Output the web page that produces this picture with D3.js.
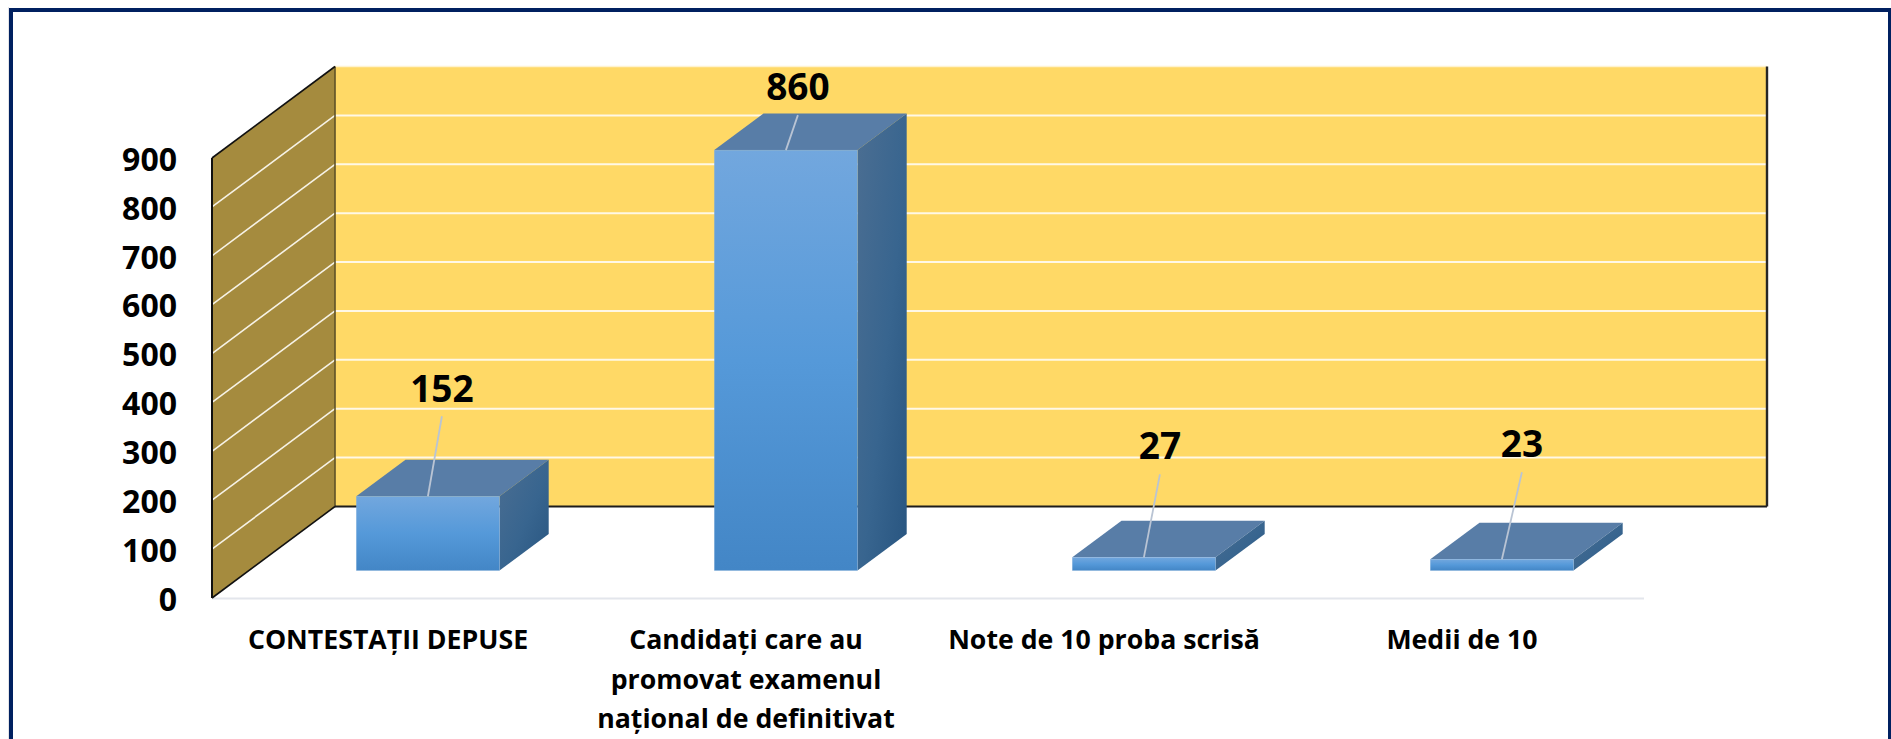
<!DOCTYPE html>
<html><head><meta charset="utf-8">
<script src="https://cdnjs.cloudflare.com/ajax/libs/d3/7.8.5/d3.min.js"></script>
<style>html,body{margin:0;padding:0;background:#fff;overflow:hidden}svg{display:block}text{font-family:"Open Sans",Lato,sans-serif;font-weight:700;fill:#000}</style>
</head><body><svg id="c" width="1891" height="739"></svg>
<script>
const categories = ["CONTESTAȚII DEPUSE", "Candidați care au promovat examenul național de definitivat", "Note de 10 proba scrisă", "Medii de 10"];
const categoryLines = [["CONTESTAȚII DEPUSE"], ["Candidați care au", "promovat examenul", "național de definitivat"], ["Note de 10 proba scrisă"], ["Medii de 10"]];
const values = [152, 860, 27, 23];
const yTicks = [0, 100, 200, 300, 400, 500, 600, 700, 800, 900];
// leader-line ends, in pixels relative to each bar's front-top centre
const leaderOffsets = [[14, -80], [12, -35], [16, -83], [20, -87]];
const labelGap = [14, 15, 15, 15];

const W = 1891, H = 739;
const svg = d3.select("#c");
const x = d3.scaleBand().domain(categories).range([212, 1644]).paddingInner(0.6).paddingOuter(0.3);
const y = d3.scaleLinear().domain([0, 900]).range([598, 158]);
const DX = 123, DY = 91.5;
const P = (px, py, d) => [px + d * DX, py - d * DY];
const poly = pts => pts.map(p => p.join(",")).join(" ");

const defs = svg.append("defs");
const fg = defs.append("linearGradient").attr("id", "front").attr("x1", 0).attr("y1", 0).attr("x2", 0).attr("y2", 1);
fg.append("stop").attr("offset", 0).attr("stop-color", "#72a7de");
fg.append("stop").attr("offset", 0.5).attr("stop-color", "#5599d9");
fg.append("stop").attr("offset", 1).attr("stop-color", "#4386c6");
const sg = defs.append("linearGradient").attr("id", "side").attr("x1", 0).attr("y1", 0).attr("x2", 1).attr("y2", 1);
sg.append("stop").attr("offset", 0).attr("stop-color", "#4b6e92");
sg.append("stop").attr("offset", 0.55).attr("stop-color", "#38658f");
sg.append("stop").attr("offset", 1).attr("stop-color", "#285580");

// frame
svg.append("rect").attr("x", 8).attr("y", 7).attr("width", 1).attr("height", H).attr("fill", "#e4e4e8");
svg.append("rect").attr("x", 11).attr("y", 10).attr("width", 1879).attr("height", H + 20)
  .attr("fill", "#fff").attr("stroke", "#002060").attr("stroke-width", 4);

const [x0, x1] = x.range();
const [y0, yT] = y.range();

// back wall and side wall
svg.append("polygon").attr("points", poly([P(x0, yT, 1), P(x1, yT, 1), P(x1, y0, 1), P(x0, y0, 1)])).attr("fill", "#ffd966");
svg.append("polygon").attr("points", poly([P(x0, yT, 0), P(x0, yT, 1), P(x0, y0, 1), P(x0, y0, 0)])).attr("fill", "#a58b3e");

// gridlines
const grid = svg.append("g").attr("fill", "none");
yTicks.slice(1).forEach(t => {
  const a = P(x0, y(t), 0), b = P(x0, y(t), 1), c = P(x1, y(t), 1);
  if (t < 900) grid.append("line").attr("x1", a[0]).attr("y1", a[1]).attr("x2", b[0]).attr("y2", b[1]).attr("stroke", "#f6f2e6").attr("stroke-width", 1.6);
  grid.append("line").attr("x1", b[0]).attr("y1", b[1]).attr("x2", c[0]).attr("y2", c[1]).attr("stroke", t < 900 ? "#fff8e6" : "#fff3cf").attr("stroke-width", t < 900 ? 2 : 1.4);
});

// floor line
svg.append("line").attr("x1", x0).attr("x2", x1).attr("y1", y0 + 0.5).attr("y2", y0 + 0.5).attr("stroke", "#e3e6ec").attr("stroke-width", 2);

// wall outlines
const ol = (a, b, c, w) => svg.append("line").attr("x1", a[0]).attr("y1", a[1]).attr("x2", b[0]).attr("y2", b[1]).attr("stroke", c).attr("stroke-width", w);
ol(P(x0, yT, 1), P(x0, y0, 1), "#5f5227", 1.6);
ol(P(x0, y0, 1), P(x1, y0, 1), "#1c1c1c", 2);
ol(P(x1, yT, 1), P(x1, y0, 1), "#262626", 2.4);
ol(P(x0, yT, 0), P(x0, yT, 1), "#111", 1.6);
ol(P(x0, y0, 0), P(x0, y0, 1), "#111", 1.6);
ol(P(x0, yT, 0), P(x0, y0, 0), "#111", 2);

// bars
const D0 = 0.3, D1 = 0.7;
const bars = svg.append("g").selectAll("g").data(values).join("g");
bars.each(function (v, i) {
  const g = d3.select(this), l = x(categories[i]), r = l + x.bandwidth();
  g.append("polygon").attr("points", poly([P(l, y(v), D0), P(l, y(v), D1), P(r, y(v), D1), P(r, y(v), D0)])).attr("fill", "#587da7");
  g.append("polygon").attr("points", poly([P(r, y(v), D0), P(r, y(v), D1), P(r, y(0), D1), P(r, y(0), D0)])).attr("fill", "url(#side)");
  const tl = P(l, y(v), D0), br = P(r, y(0), D0);
  g.append("rect").attr("x", tl[0]).attr("y", tl[1]).attr("width", br[0] - tl[0]).attr("height", br[1] - tl[1])
    .attr("fill", "url(#front)").attr("stroke", "#8db4de").attr("stroke-width", 0.5).attr("stroke-opacity", 0.5);
  // leader + label
  const sx = (tl[0] + br[0]) / 2, sy = tl[1];
  const [ox, oy] = leaderOffsets[i];
  g.append("line").attr("x1", sx).attr("y1", sy).attr("x2", sx + ox).attr("y2", sy + oy).attr("stroke", "#b9c4d4").attr("stroke-width", 1.8);
  g.append("text").attr("x", sx + ox).attr("y", sy + oy - labelGap[i]).attr("text-anchor", "middle").attr("font-size", 37).text(v);
});

// axes
const yAxis = d3.axisLeft(y).tickValues(yTicks).tickSize(0).tickPadding(35);
const ya = svg.append("g").attr("transform", `translate(${x0},2)`).call(yAxis);
ya.select(".domain").remove();
ya.selectAll("text").attr("font-size", 32).style("font-family", "'Open Sans'").style("font-weight", 700).attr("fill", "#000");

const xAxis = d3.axisBottom(x).tickSize(0).tickFormat("");
const xa = svg.append("g").attr("transform", `translate(0,${y0})`).call(xAxis);
xa.select(".domain").remove();
xa.selectAll(".tick").each(function (d, i) {
  const t = d3.select(this).select("text").attr("text-anchor", "middle").attr("font-size", 26.7)
    .style("font-family", "'Open Sans'").style("font-weight", 700).attr("fill", "#000").attr("y", 0).attr("dy", null);
  t.selectAll("tspan").data(categoryLines[i]).join("tspan").attr("x", -3).attr("y", (_, k) => 51 + k * 39.5).text(s => s);
});
</script></body></html>
